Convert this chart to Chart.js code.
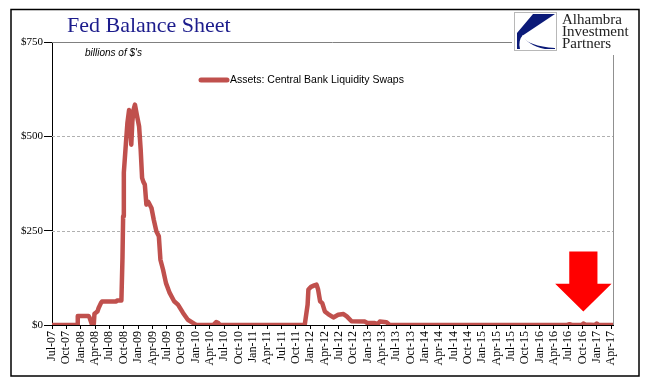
<!DOCTYPE html>
<html><head><meta charset="utf-8">
<script src="https://cdn.jsdelivr.net/npm/chart.js@4/dist/chart.umd.min.js"></script>
<style>html,body{margin:0;padding:0;background:#fff;}canvas{display:block;}</style>
</head><body>
<canvas id="c" width="663" height="381"></canvas>
<script>
const chartTitle = "Fed Balance Sheet";
const unitNote = "billions of $'s";
const seriesLabel = "Assets: Central Bank Liquidity Swaps";
const logoLines = ["Alhambra", "Investment", "Partners"];

const tickLabels = ["Jul-07","Oct-07","Jan-08","Apr-08","Jul-08","Oct-08","Jan-09","Apr-09","Jul-09","Oct-09",
  "Jan-10","Apr-10","Jul-10","Oct-10","Jan-11","Apr-11","Jul-11","Oct-11","Jan-12","Apr-12",
  "Jul-12","Oct-12","Jan-13","Apr-13","Jul-13","Oct-13","Jan-14","Apr-14","Jul-14","Oct-14",
  "Jan-15","Apr-15","Jul-15","Oct-15","Jan-16","Apr-16","Jul-16","Oct-16","Jan-17","Apr-17"];
const yTicks = [0, 250, 500, 750];

const swapDates = ["2007-07-01","2007-12-10","2007-12-13","2008-02-20","2008-02-27","2008-03-13","2008-03-24","2008-03-28",
  "2008-04-10","2008-04-17","2008-04-24","2008-05-08","2008-05-15","2008-08-14","2008-08-20","2008-09-17",
  "2008-09-24","2008-09-28","2008-10-02","2008-10-15","2008-10-25","2008-11-05","2008-11-12","2008-11-19",
  "2008-11-26","2008-12-03","2008-12-12","2008-12-24","2009-01-08","2009-01-18","2009-01-27","2009-02-04",
  "2009-02-14","2009-02-24","2009-03-04","2009-03-11","2009-03-26","2009-04-10","2009-04-27","2009-05-12",
  "2009-05-22","2009-06-08","2009-06-27","2009-07-20","2009-08-18","2009-09-12","2009-10-14","2009-11-14",
  "2009-12-26","2010-01-08","2010-04-24","2010-05-12","2010-05-26","2010-06-06","2011-11-28","2011-12-16",
  "2011-12-21","2012-01-07","2012-01-28","2012-02-12","2012-02-22","2012-03-04","2012-03-18","2012-04-04",
  "2012-04-25","2012-05-28","2012-06-28","2012-08-01","2012-08-22","2012-09-22","2012-12-16","2012-12-28",
  "2013-02-18","2013-03-07","2013-03-19","2013-05-01","2013-05-22","2016-06-25","2016-07-10","2016-07-25",
  "2016-09-28","2016-10-07","2016-10-20","2016-12-20","2017-01-01","2017-01-13","2017-04-12"];
const swapValues = [0,0,24,24,20,0,3,30,
  34,36,45,58,62,62,65,65,
  180,288,404,480,536,570,530,478,
  540,570,584,557,526,465,390,380,
  372,319,327,322,310,279,248,235,
  173,147,111,85,63,54,32,14,
  3,0,0,8,5,0,0,54,
  94,101,105,107,94,63,58,36,
  29,20,27,29,23,10,9,6,
  5,3,9,7,0,0,2,0,
  0,4,1,0,4,0,0];

// annotation arrow (in data units)
const arrowDate = "2016-10-07";
const arrowTipValue = 36, arrowNeckValue = 109, arrowTopValue = 195;
const arrowShaftHalfMonths = 2.95, arrowHeadHalfMonths = 5.9;

function monthsSinceStart(s){
  const p = s.split('-').map(Number);
  return (p[0]-2007)*12 + (p[1]-7) + (p[2]-1)/30.5;
}
const points = swapDates.map((d,i)=>({x: monthsSinceStart(d), y: swapValues[i]}));

const decor = {
  id: 'decor',
  beforeDatasetsDraw(chart){
    const {ctx, chartArea:a, scales:{y}} = chart;
    ctx.save();
    yTicks.forEach(v=>{
      if (v === 0) return;
      const py = Math.round(y.getPixelForValue(v)) + 0.5;
      ctx.beginPath();
      if (v === 750){ ctx.strokeStyle = '#808080'; ctx.setLineDash([]); }
      else { ctx.strokeStyle = '#B0B0B0'; ctx.setLineDash([3,2]); }
      ctx.lineWidth = 1;
      ctx.moveTo(a.left, py); ctx.lineTo(a.right, py); ctx.stroke();
    });
    ctx.setLineDash([]);
    ctx.strokeStyle = '#909090';
    ctx.beginPath();
    ctx.moveTo(Math.round(a.right)+0.5, a.top); ctx.lineTo(Math.round(a.right)+0.5, a.bottom); ctx.stroke();
    ctx.restore();
  },
  afterDraw(chart){
    const {ctx, scales:{x, y}} = chart;
    ctx.save();
    // arrow
    const cx = x.getPixelForValue(monthsSinceStart(arrowDate));
    const xs0 = x.getPixelForValue(monthsSinceStart(arrowDate) - arrowShaftHalfMonths);
    const xs1 = x.getPixelForValue(monthsSinceStart(arrowDate) + arrowShaftHalfMonths);
    const xh0 = x.getPixelForValue(monthsSinceStart(arrowDate) - arrowHeadHalfMonths);
    const xh1 = x.getPixelForValue(monthsSinceStart(arrowDate) + arrowHeadHalfMonths);
    const yTop = y.getPixelForValue(arrowTopValue), yNeck = y.getPixelForValue(arrowNeckValue), yTip = y.getPixelForValue(arrowTipValue);
    ctx.fillStyle = '#FF0000';
    ctx.beginPath();
    ctx.moveTo(xs0, yTop); ctx.lineTo(xs1, yTop); ctx.lineTo(xs1, yNeck); ctx.lineTo(xh1, yNeck);
    ctx.lineTo(cx, yTip); ctx.lineTo(xh0, yNeck); ctx.lineTo(xs0, yNeck); ctx.closePath(); ctx.fill();

    // legend
    const ds = chart.data.datasets[0];
    ctx.strokeStyle = ds.borderColor; ctx.lineWidth = 5; ctx.lineCap = 'round';
    ctx.beginPath(); ctx.moveTo(201, 80); ctx.lineTo(227, 80); ctx.stroke();
    ctx.fillStyle = '#000'; ctx.font = '10.5px "Liberation Sans", Arial, sans-serif';
    ctx.textBaseline = 'middle'; ctx.textAlign = 'left';
    ctx.fillText(ds.label, 230, 80.5);

    // note
    ctx.font = 'italic 10px "Liberation Sans", Arial, sans-serif';
    ctx.fillText(unitNote, 85, 53);

    // title
    ctx.fillStyle = '#1C1C8C';
    ctx.font = '22px "Liberation Serif", "Times New Roman", serif';
    ctx.textBaseline = 'alphabetic';
    ctx.fillText(chartTitle, 67, 32);

    // logo
    ctx.fillStyle = '#fff';
    ctx.fillRect(512, 10, 126, 45);
    ctx.strokeStyle = '#B8B8B8'; ctx.lineWidth = 1;
    ctx.strokeRect(514.5, 12.5, 42, 38);
    ctx.fillStyle = '#0B1A78';
    ctx.beginPath();
    ctx.moveTo(533, 14); ctx.lineTo(555, 14); ctx.lineTo(522, 36);
    ctx.quadraticCurveTo(528, 46, 555, 48); ctx.lineTo(555, 49); ctx.lineTo(517, 49);
    ctx.lineTo(517, 33); ctx.closePath(); ctx.fill();
    ctx.fillStyle = '#fff';
    ctx.beginPath();
    ctx.moveTo(520, 49); ctx.quadraticCurveTo(518, 40, 523, 35); ctx.quadraticCurveTo(527, 45, 545, 49); ctx.closePath(); ctx.fill();
    ctx.fillStyle = '#222';
    ctx.font = '15px "Liberation Serif", "Times New Roman", serif';
    ctx.fillText(logoLines[0], 562, 24);
    ctx.fillText(logoLines[1], 562, 36);
    ctx.fillText(logoLines[2], 562, 48);

    // outer border
    ctx.strokeStyle = '#000'; ctx.lineWidth = 1.5;
    ctx.strokeRect(11, 9.5, 628, 366.5);
    ctx.restore();
  }
};

new Chart(document.getElementById('c'), {
  type: 'line',
  data: { datasets: [{
    label: seriesLabel, data: points,
    borderColor: '#C0504D', backgroundColor: '#C0504D', borderWidth: 4.5,
    pointRadius: 0, tension: 0, fill: false, borderJoinStyle: 'round', borderCapStyle: 'round'
  }]},
  options: {
    responsive: false, animation: false, devicePixelRatio: 1,
    layout: { padding: { left: 0, top: 42, right: 50, bottom: 0 } },
    plugins: { legend: { display: false }, tooltip: { enabled: false } },
    scales: {
      x: {
        type: 'linear', min: 0, max: 117.4,
        afterBuildTicks: s => { s.ticks = tickLabels.map((_, i) => ({ value: i * 3 })); },
        afterFit: s => { s.height = 56; },
        ticks: { autoSkip: false, maxRotation: 90, minRotation: 90, padding: 2, color: '#000',
          font: { family: '"Liberation Serif", "Times New Roman", serif', size: 12 },
          callback: v => tickLabels[Math.round(v / 3)] },
        grid: { drawOnChartArea: false, drawTicks: true, tickLength: 4, color: '#000' },
        border: { display: true, color: '#000', width: 1 }
      },
      y: {
        min: 0, max: 750,
        afterBuildTicks: s => { s.ticks = yTicks.map(v => ({ value: v })); },
        afterFit: s => { s.width = 52; },
        ticks: { padding: 1, color: '#000', font: { family: '"Liberation Serif", "Times New Roman", serif', size: 11 },
          callback: v => '$' + v },
        grid: { drawOnChartArea: false, drawTicks: true, tickLength: 8, color: '#000' },
        border: { display: true, color: '#000', width: 1 }
      }
    }
  },
  plugins: [decor]
});
</script>
</body></html>
